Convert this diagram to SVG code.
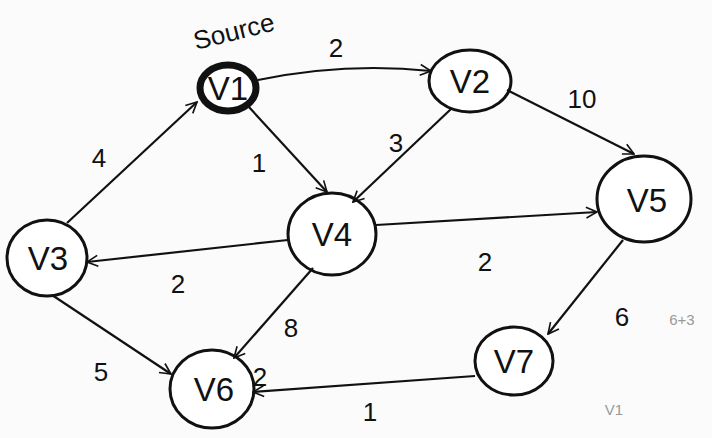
<svg xmlns="http://www.w3.org/2000/svg" width="712" height="438" viewBox="0 0 712 438">
<defs>
<marker id="arr" viewBox="0 0 12 12" refX="11" refY="6" markerWidth="13" markerHeight="13" markerUnits="userSpaceOnUse" orient="auto">
<path d="M1,1 L11,6 L1,11" fill="none" stroke="#111" stroke-width="1.5"/>
</marker>
<style>
.node ellipse{fill:#fff;stroke:#111;stroke-width:3}
.lbl{font-family:"Liberation Sans","DejaVu Sans",sans-serif;font-size:33px;fill:#111;text-anchor:middle}
.w{font-family:"Liberation Sans","DejaVu Sans",sans-serif;font-size:26px;fill:#111;text-anchor:middle}
.e{fill:none;stroke:#111;stroke-width:2.2;marker-end:url(#arr)}
.faint{font-family:"Liberation Sans","DejaVu Sans",sans-serif;fill:#999;text-anchor:middle}
</style>
</defs>
<rect width="712" height="438" fill="#fbfbfb"/>
<g id="source-label"><text class="w" x="236" y="40" font-size="23" transform="rotate(-14 236 40)">Source</text></g>
<g id="V1" class="node"><ellipse cx="228" cy="88" rx="28" ry="23" style="stroke-width:7"/><text class="lbl" x="228" y="100">V1</text></g>
<g id="V2" class="node"><ellipse cx="470" cy="81" rx="41" ry="31"/><text class="lbl" x="470" y="93">V2</text></g>
<g id="V3" class="node"><ellipse cx="47" cy="258" rx="40" ry="38"/><text class="lbl" x="48" y="270">V3</text></g>
<g id="V4" class="node"><ellipse cx="332" cy="234" rx="44" ry="41"/><text class="lbl" x="332" y="246">V4</text></g>
<g id="V5" class="node"><ellipse cx="644" cy="199" rx="47" ry="43"/><text class="lbl" x="647" y="212">V5</text></g>
<g id="V6" class="node"><ellipse cx="212" cy="389" rx="42" ry="39"/><text class="lbl" x="214" y="401">V6</text></g>
<g id="V7" class="node"><ellipse cx="514" cy="361" rx="39" ry="34"/><text class="lbl" x="514" y="373">V7</text></g>
<g id="connectors">
<path class="e" d="M258,80 Q345,62 431,71"/>
<path class="e" d="M248,106 L327,192"/>
<path class="e" d="M67,223 L197,102"/>
<path class="e" d="M451,109 L353,202"/>
<path class="e" d="M507,90 L634,154"/>
<path class="e" d="M376,225 L597,212"/>
<path class="e" d="M288,240 L87,262"/>
<path class="e" d="M313,268 L234,358"/>
<path class="e" d="M52,295 L171,374"/>
<path class="e" d="M623,240 L548,334"/>
<path class="e" d="M475,376 L253,392"/>
<text class="w" x="336" y="57">2</text>
<text class="w" x="259" y="172">1</text>
<text class="w" x="99" y="167">4</text>
<text class="w" x="396" y="152">3</text>
<text class="w" x="582" y="108">10</text>
<text class="w" x="485" y="271">2</text>
<text class="w" x="178" y="293">2</text>
<text class="w" x="291" y="337">8</text>
<text class="w" x="101" y="381">5</text>
<text class="w" x="622" y="326">6</text>
<text class="w" x="370" y="421">1</text>
</g>
<text class="w" x="260" y="386" font-size="13">2</text>
<text class="faint" x="682" y="325" font-size="15">6+3</text>
<text class="faint" x="614" y="415" font-size="15">V1</text>
</svg>
